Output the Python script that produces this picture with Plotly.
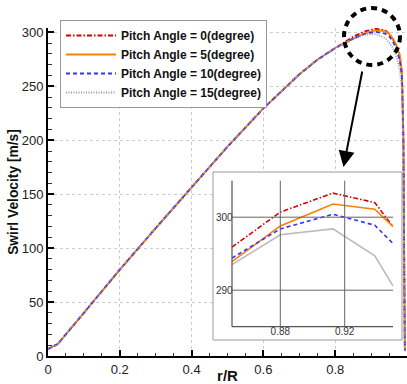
import plotly.graph_objects as go

# ---------------- data ----------------
r_over_R = [0, 0.027, 0.1, 0.2, 0.3, 0.4, 0.5, 0.6, 0.7, 0.75, 0.8,
            0.85, 0.88, 0.9127, 0.9387, 0.95,
            0.96, 0.97, 0.98, 0.986, 0.99, 0.992, 0.994]
base = [6.5, 11, 40, 80, 118.5, 156.5, 194, 229.5, 261, 274.5, 285.5]

swirl_0 = base + [295.9, 300.7, 303.3, 302.0, 298.7, 294, 288, 278, 262, 200, 100, 5]
swirl_5 = base + [293.9, 298.8, 301.8, 301.1, 298.7, 294.5, 288.5, 279, 263, 205, 105, 5]
swirl_10 = base + [294.4, 298.4, 300.4, 298.9, 296.4, 292, 285, 274, 258, 195, 95, 5]
swirl_15 = base + [293.5, 297.6, 298.4, 294.7, 290.6, 286, 278, 265, 245, 170, 70, 4]

series_names = ["Pitch Angle = 0(degree)", "Pitch Angle = 5(degree)",
                "Pitch Angle = 10(degree)", "Pitch Angle = 15(degree)"]
series_values = [swirl_0, swirl_5, swirl_10, swirl_15]

x_ticks = [0, 0.2, 0.4, 0.6, 0.8, 1]
x_tick_labels = ["0", "0.2", "0.4", "0.6", "0.8", "1"]
y_ticks = [0, 50, 100, 150, 200, 250, 300]
inset_x_ticks = [0.88, 0.92]
inset_x_labels = ["0.88", "0.92"]
inset_y_ticks = [290, 300]
inset_y_labels = ["290", "300"]
inset_x_window = [0.85, 0.95]
inset_y_window = [285, 305]

# ---------------- styles ----------------
colors = ["#d40000", "#ff8000", "#3333ff", "#999999"]
dashes_main = ["5px,2px,1.5px,2px", "solid", "4px,3px", "1px,1.5px"]
dashes_inset = ["5px,2px,1.5px,2px", "solid", "4px,3px", "solid"]
inset_colors = ["#d40000", "#ff8000", "#3333ff", "#bbbbbb"]

W, H = 407, 384
ML, MR, MT, MB = 48, 0, 28, 28
PW, PH = W - ML - MR, H - MT - MB

def px_x(p):
    return (p - ML) / PW

def px_y(p):
    return (H - MB - p) / PH

fig = go.Figure()

for name, vals, c, d in zip(series_names, series_values, colors, dashes_main):
    fig.add_trace(go.Scatter(x=r_over_R, y=vals, mode="lines", name=name,
                             line=dict(color=c, width=1.8, dash=d),
                             xaxis="x", yaxis="y"))

idx = [i for i, v in enumerate(r_over_R) if inset_x_window[0] <= v <= inset_x_window[1]]
for vals, c, d in zip(series_values, inset_colors, dashes_inset):
    fig.add_trace(go.Scatter(x=[r_over_R[i] for i in idx], y=[vals[i] for i in idx],
                             mode="lines", showlegend=False,
                             line=dict(color=c, width=1.6, dash=d),
                             xaxis="x2", yaxis="y2"))

# inset box (pixels) and inner axis area (pixels)
box = dict(l=213, r=402, t=172, b=340)
inner = dict(l=232, r=393, t=180.7, b=326.7)
sx = (inset_x_window[1] - inset_x_window[0]) / (inner["r"] - inner["l"])
sy = (inset_y_window[1] - inset_y_window[0]) / (inner["b"] - inner["t"])
x2_range = [inset_x_window[0] - (inner["l"] - box["l"]) * sx,
            inset_x_window[1] + (box["r"] - inner["r"]) * sx]
y2_range = [inset_y_window[0] - (box["b"] - inner["b"]) * sy,
            inset_y_window[1] + (inner["t"] - box["t"]) * sy]

font = "Liberation Sans, Arial, sans-serif"

fig.update_layout(
    template="none",
    width=W, height=H,
    margin=dict(l=ML, r=MR, t=MT, b=MB, autoexpand=False),
    paper_bgcolor="white", plot_bgcolor="white",
    font=dict(family=font, color="#222"),
    showlegend=True,
    legend=dict(x=px_x(60), y=px_y(20), xanchor="left", yanchor="top",
                bgcolor="white", bordercolor="#999", borderwidth=1,
                font=dict(size=12, weight="bold", color="#111"),
                itemwidth=50, tracegroupgap=0),
    xaxis=dict(range=[0, 1], domain=[0, 1], tickvals=x_ticks, ticktext=x_tick_labels,
               automargin=False,
               showline=True, linecolor="black", linewidth=2,
               ticks="inside", ticklen=6, tickwidth=2, tickcolor="black",
               minor=dict(dtick=0.05, ticks="inside", ticklen=3.5, tickwidth=1,
                          tickcolor="#333", showgrid=False),
               showgrid=True, gridcolor="#cccccc", griddash="dot", gridwidth=1,
               zeroline=False, tickfont=dict(size=13, color="#222"),
               title=dict(text="r/R", font=dict(size=15, weight="bold", color="#111"),
                          standoff=0)),
    yaxis=dict(range=[0, 304], domain=[0, 1], tickvals=y_ticks,
               automargin=False,
               showline=True, linecolor="black", linewidth=2,
               ticks="inside", ticklen=6, tickwidth=2, tickcolor="black",
               minor=dict(dtick=10, ticks="inside", ticklen=3.5, tickwidth=1,
                          tickcolor="#333", showgrid=False),
               showgrid=True, gridcolor="#cccccc", griddash="dot", gridwidth=1,
               zeroline=False, tickfont=dict(size=13, color="#222"),
               title=dict(text="Swirl Velocity [m/s]",
                          font=dict(size=13.8, weight="bold", color="#111"),
                          standoff=0)),
    xaxis2=dict(domain=[px_x(box["l"]), px_x(box["r"])], anchor="y2", automargin=False,
                range=x2_range, tickvals=inset_x_ticks, ticktext=inset_x_labels,
                ticklabelposition="inside", ticks="", showgrid=False,
                showline=False, zeroline=False,
                tickfont=dict(size=10, color="#333")),
    yaxis2=dict(domain=[px_y(box["b"]), px_y(box["t"])], anchor="x2", automargin=False,
                range=y2_range, tickvals=inset_y_ticks, ticktext=inset_y_labels,
                ticklabelposition="inside", ticks="", showgrid=False,
                showline=False, zeroline=False,
                tickfont=dict(size=10, color="#333")),
)

shapes = []
# inset gridlines
for tv in inset_x_ticks:
    shapes.append(dict(type="line", xref="x2", yref="y2", x0=tv, x1=tv,
                       y0=inset_y_window[0], y1=inset_y_window[1],
                       line=dict(color="#666", width=1)))
for tv in inset_y_ticks:
    shapes.append(dict(type="line", xref="x2", yref="y2", x0=inset_x_window[0],
                       x1=inset_x_window[1], y0=tv, y1=tv,
                       line=dict(color="#666", width=1)))
# inset axis lines
shapes.append(dict(type="line", xref="x2", yref="y2", x0=inset_x_window[0], x1=inset_x_window[0],
                   y0=inset_y_window[0], y1=inset_y_window[1], line=dict(color="#555", width=1.2)))
shapes.append(dict(type="line", xref="x2", yref="y2", x0=inset_x_window[0], x1=inset_x_window[1],
                   y0=inset_y_window[0], y1=inset_y_window[0], line=dict(color="#555", width=1.2)))
# inset box border
shapes.append(dict(type="rect", xref="paper", yref="paper",
                   x0=px_x(box["l"]), x1=px_x(box["r"]), y0=px_y(box["b"]), y1=px_y(box["t"]),
                   line=dict(color="#999", width=1), layer="above"))
# dashed circle around peak
shapes.append(dict(type="circle", xref="paper", yref="paper",
                   x0=px_x(344), x1=px_x(400), y0=px_y(65), y1=px_y(8),
                   line=dict(color="black", width=4, dash="6px,5px"), layer="above"))
fig.update_layout(shapes=shapes)

fig.add_annotation(xref="paper", yref="paper", x=px_x(343.5), y=px_y(167),
                   ax=19, ay=-97, axref="pixel", ayref="pixel", text="",
                   showarrow=True, arrowhead=2, arrowsize=1.6, arrowwidth=2,
                   arrowcolor="black")

fig.write_html("out.html", config={"displayModeBar": False},
               post_script="document.body.style.margin='0px';document.body.style.overflow='hidden';")
